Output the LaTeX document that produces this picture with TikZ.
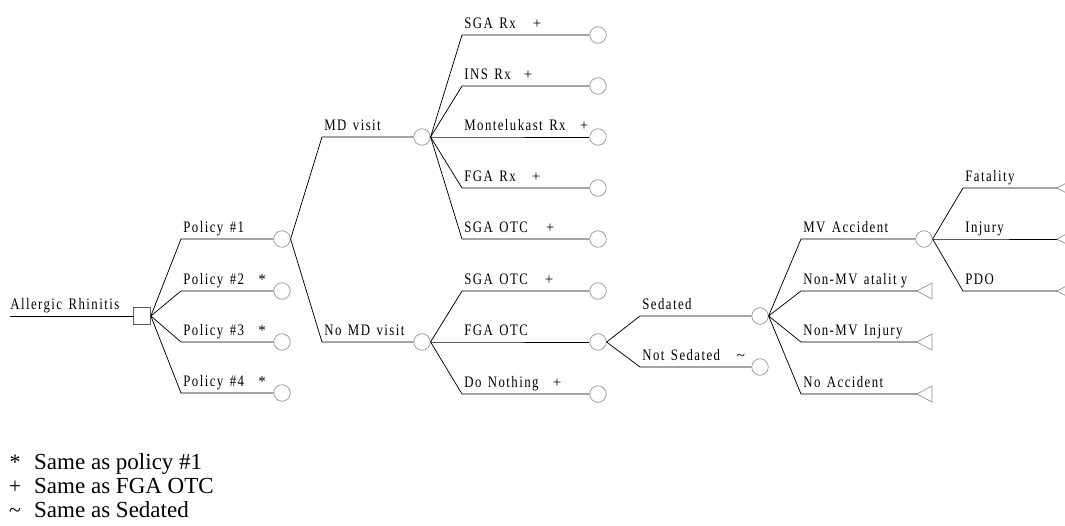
\documentclass[tikz,border=0pt]{standalone}
\usepackage{fontspec}
\setmainfont{Liberation Serif}
\newfontfamily\treefont[FakeStretch=0.8,LetterSpace=9,WordSpace=1.4]{Liberation Serif}
\begin{document}
\begin{tikzpicture}[x=1pt,y=-1pt,
  branch/.style={black, line width=0.75pt},
  chance/.style={circle, draw=gray!85, line width=0.7pt, minimum size=16.5pt, inner sep=0pt},
  decision/.style={rectangle, draw=gray!70!black, line width=0.7pt, minimum size=17pt, inner sep=0pt},
  term/.style={draw=gray!85, line width=0.7pt},
  lab/.style={anchor=base west, font=\treefont\fontsize{16}{18}\selectfont, inner sep=0pt, xshift=2pt, yshift=7pt},
  sym/.style={anchor=base, font=\fontsize{15}{16}\selectfont, inner sep=0pt, yshift=7pt},
  legsym/.style={anchor=base, font=\fontsize{22}{24}\selectfont, inner sep=0pt},
  legtxt/.style={anchor=base west, font=\fontsize{23}{24}\selectfont, inner sep=0pt}
]
\useasboundingbox (0,0) rectangle (1065,525);
\clip (0,0) rectangle (1065,525);
% nodes
\coordinate (start) at (10,316);
\node[decision] (root) at (142,316) {};
\node[chance] (p1) at (282,239) {};
\node[chance] (p2) at (282,291) {};
\node[chance] (p3) at (282,342) {};
\node[chance] (p4) at (282,393) {};
\node[chance] (md) at (422,137) {};
\node[chance] (nomd) at (422,342) {};
\node[chance] (sgarx) at (598,35) {};
\node[chance] (insrx) at (598,86) {};
\node[chance] (mont) at (598,137) {};
\node[chance] (fgarx) at (598,188) {};
\node[chance] (sgaotca) at (598,239) {};
\node[chance] (sgaotcb) at (598,291) {};
\node[chance] (fgaotc) at (598,342) {};
\node[chance] (donoth) at (598,394) {};
\node[chance] (sed) at (760,316) {};
\node[chance] (notsed) at (760,367) {};
\node[chance] (mva) at (924,239) {};
\coordinate (nmvf) at (917,291);
\coordinate (nmvi) at (917,342);
\coordinate (noacc) at (917,394);
\coordinate (fat) at (1057,188);
\coordinate (inj) at (1057,239);
\coordinate (pdo) at (1057,291);
% terminal triangles
\foreach \t in {nmvf,nmvi,noacc,fat,inj,pdo}
  \draw[term] (\t) -- ++(15,-8) -- ++(0,16) -- cycle;
% root
\draw[branch] (start) node[lab, xshift=-2pt]{Allergic Rhinitis} -- (root.west);
% policies
\draw[branch] (root.east) -- (181,239) node[lab]{Policy \#1} -- (p1.west);
\draw[branch] (root.east) -- (181,291) node[lab]{Policy \#2} -- (p2.west);
\draw[branch] (root.east) -- (181,342) node[lab]{Policy \#3} -- (p3.west);
\draw[branch] (root.east) -- (181,393) node[lab]{Policy \#4} -- (p4.west);
% MD
\draw[branch] (p1.east) -- (322,137) node[lab]{MD visit} -- (md.west);
\draw[branch] (p1.east) -- (322,342) node[lab]{No MD visit} -- (nomd.west);
\draw[branch] (md.east) -- (462,35) node[lab]{SGA Rx} -- (sgarx.west);
\draw[branch] (md.east) -- (462,86) node[lab]{INS Rx} -- (insrx.west);
\draw[branch] (md.east) -- (462,137) node[lab]{Montelukast Rx} -- (mont.west);
\draw[branch] (md.east) -- (462,188) node[lab]{FGA Rx} -- (fgarx.west);
\draw[branch] (md.east) -- (462,239) node[lab]{SGA OTC} -- (sgaotca.west);
\draw[branch] (nomd.east) -- (462,291) node[lab]{SGA OTC} -- (sgaotcb.west);
\draw[branch] (nomd.east) -- (462,342) node[lab]{FGA OTC} -- (fgaotc.west);
\draw[branch] (nomd.east) -- (462,394) node[lab]{Do Nothing} -- (donoth.west);
% sedation
\draw[branch] (fgaotc.east) -- (640,316) node[lab]{Sedated} -- (sed.west);
\draw[branch] (fgaotc.east) -- (640,367) node[lab]{Not Sedated} -- (notsed.west);
% accidents
\draw[branch] (sed.east) -- (801,239) node[lab]{MV Accident} -- (mva.west);
\draw[branch] (sed.east) -- (801,291) node[lab]{Non-MV atalit\hspace{4pt}y} -- (nmvf);
\draw[branch] (sed.east) -- (801,342) node[lab]{Non-MV Injury} -- (nmvi);
\draw[branch] (sed.east) -- (801,394) node[lab]{No Accident} -- (noacc);
\draw[branch] (mva.east) -- (963,188) node[lab]{Fatality} -- (fat);
\draw[branch] (mva.east) -- (963,239) node[lab]{Injury} -- (inj);
\draw[branch] (mva.east) -- (963,291) node[lab]{PDO} -- (pdo);
% markers
\node[sym] (s2) at (262,291) {*};
\node[sym] (s3) at (262,342) {*};
\node[sym] (s4) at (262,393) {*};
\node[sym] (m1) at (537,35) {+};
\node[sym] (m2) at (528,86) {+};
\node[sym] (m3) at (584,137) {+};
\node[sym] (m4) at (536,188) {+};
\node[sym] (m5) at (550,239) {+};
\node[sym] (m6) at (549,291) {+};
\node[sym] (m7) at (557,394) {+};
\node[sym] (m8) at (741,367) {\textasciitilde};
% legend
\node[legsym] (l1s) at (15,469) {*};
\node[legtxt] (l1) at (34,469) {Same as policy \#1};
\node[legsym] (l2s) at (15,493) {+};
\node[legtxt] (l2) at (34,493) {Same as FGA OTC};
\node[legsym] (l3s) at (15,517) {\textasciitilde};
\node[legtxt] (l3) at (34,517) {Same as Sedated};
\end{tikzpicture}
\end{document}
